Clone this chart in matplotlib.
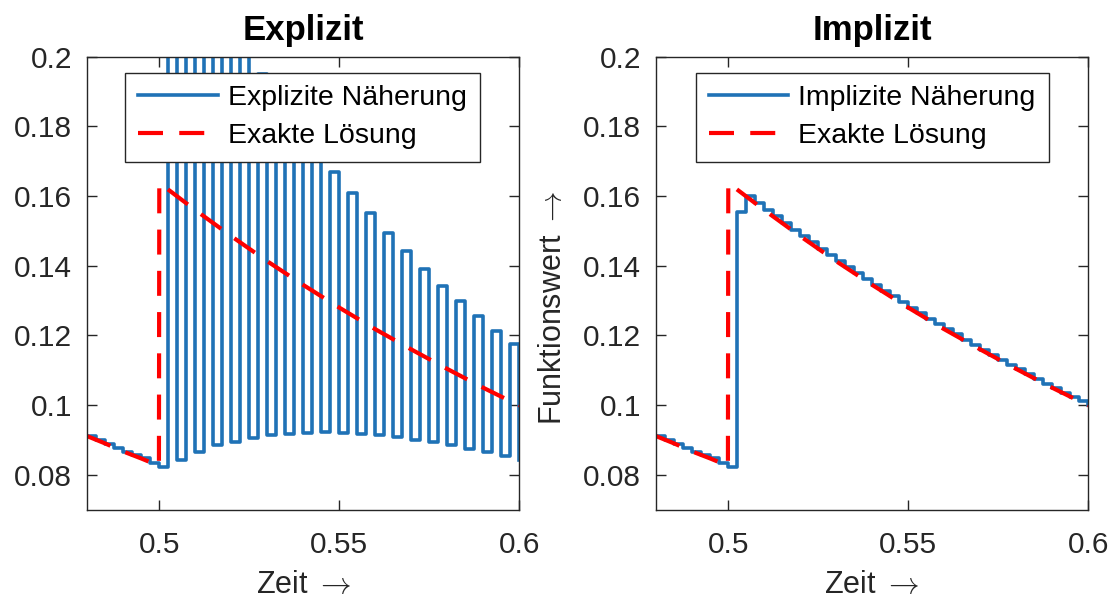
import numpy as np
import matplotlib.pyplot as plt

plt.rcParams['font.family'] = ['Liberation Sans', 'DejaVu Sans']
plt.rcParams['mathtext.fontset'] = 'cm'

# sample times of both schemes (dt = 0.0025)
t_num = np.linspace(0.48, 0.6, 49)

y_explicit = [0.0911, 0.0900, 0.0889, 0.0878, 0.0867, 0.0857, 0.0847, 0.0834,
              0.0822, 0.2410, 0.0843, 0.2310, 0.0865, 0.2210, 0.0886, 0.2120,
              0.0895, 0.2030, 0.0906, 0.1950, 0.0914, 0.1870, 0.0918, 0.1795,
              0.0921, 0.1730, 0.0922, 0.1668, 0.0921, 0.1608, 0.0917, 0.1551,
              0.0915, 0.1493, 0.0910, 0.1442, 0.0901, 0.1392, 0.0894, 0.1343,
              0.0886, 0.1298, 0.0875, 0.1256, 0.0865, 0.1214, 0.0854, 0.1175,
              0.0843]

y_implicit = [0.0911, 0.0900, 0.0889, 0.0878, 0.0867, 0.0857, 0.0847, 0.0834,
              0.0822, 0.1553, 0.1600, 0.1580, 0.1561, 0.1542, 0.1523, 0.1504,
              0.1485, 0.1467, 0.1449, 0.1431, 0.1413, 0.1396, 0.1378, 0.1361,
              0.1345, 0.1328, 0.1312, 0.1296, 0.1280, 0.1264, 0.1248, 0.1233,
              0.1218, 0.1203, 0.1188, 0.1173, 0.1159, 0.1144, 0.1130, 0.1116,
              0.1103, 0.1089, 0.1076, 0.1062, 0.1049, 0.1036, 0.1024, 0.1011,
              0.1000]

# exact solution with the jump at t = 0.5
t_exact = [0.48, 0.485, 0.49, 0.495, 0.4999, 0.5, 0.51, 0.52, 0.53, 0.54,
           0.55, 0.56, 0.57, 0.58, 0.59, 0.60]
y_exact = [0.0911, 0.0890, 0.0867, 0.0847, 0.0826, 0.1638, 0.1560, 0.1485,
           0.1413, 0.1345, 0.1280, 0.1218, 0.1160, 0.1104, 0.1050, 0.0999]

x_ticks = [0.5, 0.55, 0.6]
x_labels = ['0.5', '0.55', '0.6']
y_ticks = [0.08, 0.1, 0.12, 0.14, 0.16, 0.18, 0.2]
y_labels = ['0.08', '0.1', '0.12', '0.14', '0.16', '0.18', '0.2']

blue = '#1f72b6'
grey = '#262626'

fig = plt.figure(figsize=(11.15, 6.01), dpi=100)
ax1 = fig.add_axes([0.0783, 0.1519, 0.3874, 0.7537])
ax2 = fig.add_axes([0.5886, 0.1519, 0.3874, 0.7537])

panels = [(ax1, y_explicit, 'Explizit', 'Explizite Näherung'),
          (ax2, y_implicit, 'Implizit', 'Implizite Näherung')]

for ax, y_num, title, name in panels:
    ax.step(t_num, y_num, where='post', color=blue, lw=2.6, label=name)
    ax.plot(t_exact, y_exact, color='red', lw=3.0, dashes=(6.0, 3.9),
            label='Exakte Lösung')
    ax.set_xlim(0.48, 0.6)
    ax.set_ylim(0.07, 0.2)
    ax.set_xticks(x_ticks)
    ax.set_xticklabels(x_labels)
    ax.set_yticks(y_ticks)
    ax.set_yticklabels(y_labels)
    ax.tick_params(direction='in', length=7, width=1, top=True, right=True,
                   color=grey, labelcolor=grey, labelsize=21.5)
    ax.tick_params(axis='x', pad=15)
    ax.tick_params(axis='y', pad=11)
    for sp in ax.spines.values():
        sp.set_color(grey)
        sp.set_linewidth(1)
    ax.set_title(title, fontsize=25, fontweight='bold', pad=12)
    ax.set_xlabel(r'Zeit $\rightarrow$', fontsize=22, color=grey, labelpad=8)
    leg = ax.legend(loc='upper right', bbox_to_anchor=(0.908, 0.965),
                    borderaxespad=0, fontsize=20.5, frameon=True, fancybox=False,
                    framealpha=1, edgecolor=grey, handlelength=2.8,
                    handletextpad=0.35, labelspacing=0.42, borderpad=0.45)
    leg.get_frame().set_linewidth(1)

ax2.set_ylabel(r'Funktionswert $\rightarrow$', fontsize=22, color=grey,
               labelpad=11)
ax2.yaxis.label.set_y(0.447)

fig.savefig('out.png', dpi=100)
